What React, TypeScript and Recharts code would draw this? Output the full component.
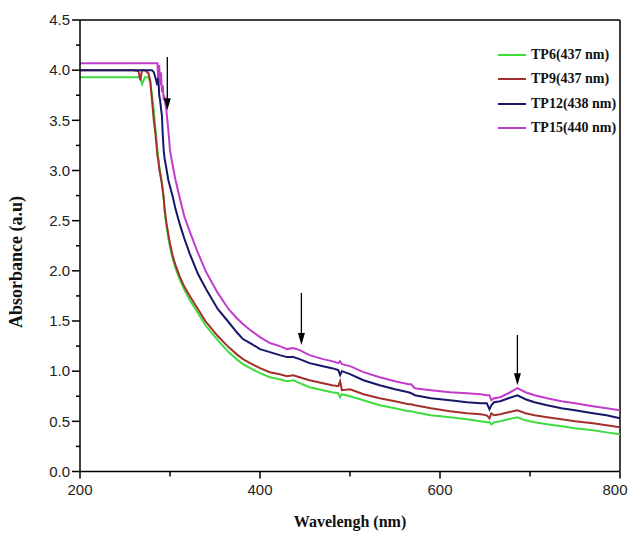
import React from 'react';
import { LineChart, Line, XAxis, YAxis, ReferenceLine, Legend } from 'recharts';

const wavelengths = [200, 230, 260, 265, 267, 269, 272, 276, 278, 280, 282, 284, 286, 287, 288, 289, 290, 291, 292, 293, 294, 296, 298, 300, 303, 306, 311, 316, 322, 331, 340, 353, 365, 374, 381, 389, 400, 411, 422, 430, 437, 444, 455, 470, 480, 487, 489, 491, 500, 515, 533, 550, 565, 568, 572, 590, 611, 630, 645, 652, 655, 657, 660, 667, 676, 686, 695, 705, 719, 735, 750, 770, 785, 800];

const tp6 = [3.93, 3.93, 3.93, 3.93, 3.93, 3.86, 3.93, 3.93, 3.88, 3.75, 3.6, 3.4, 3.2, 3.12, 3.05, 2.99, 2.93, 2.88, 2.8, 2.72, 2.6, 2.45, 2.34, 2.24, 2.12, 2.03, 1.91, 1.81, 1.71, 1.58, 1.45, 1.31, 1.19, 1.12, 1.07, 1.03, 0.98, 0.94, 0.92, 0.9, 0.91, 0.88, 0.84, 0.81, 0.79, 0.78, 0.74, 0.77, 0.75, 0.71, 0.66, 0.63, 0.6, 0.6, 0.59, 0.56, 0.54, 0.52, 0.5, 0.49, 0.49, 0.47, 0.49, 0.5, 0.52, 0.54, 0.51, 0.49, 0.47, 0.45, 0.43, 0.41, 0.39, 0.37];

const tp9 = [4.0, 4.0, 4.0, 3.99, 3.9, 4.0, 4.0, 3.97, 3.9, 3.7, 3.5, 3.35, 3.15, 3.1, 3.02, 2.97, 2.92, 2.87, 2.8, 2.73, 2.62, 2.48, 2.37, 2.27, 2.15, 2.06, 1.94, 1.84, 1.75, 1.62, 1.49, 1.35, 1.24, 1.17, 1.12, 1.08, 1.03, 0.99, 0.97, 0.95, 0.96, 0.94, 0.91, 0.88, 0.86, 0.85, 0.9, 0.81, 0.82, 0.77, 0.73, 0.7, 0.67, 0.67, 0.66, 0.63, 0.6, 0.58, 0.57, 0.56, 0.53, 0.58, 0.56, 0.57, 0.59, 0.61, 0.58, 0.56, 0.54, 0.52, 0.5, 0.48, 0.46, 0.44];

const tp12 = [4.0, 4.0, 4.0, 4.0, 4.0, 4.0, 4.0, 4.0, 4.0, 4.0, 3.98, 3.92, 3.85, 3.95, 3.75, 3.7, 3.62, 3.55, 3.35, 3.2, 3.12, 3.02, 2.91, 2.84, 2.74, 2.62, 2.46, 2.32, 2.17, 1.97, 1.82, 1.62, 1.49, 1.39, 1.32, 1.28, 1.22, 1.19, 1.16, 1.14, 1.14, 1.12, 1.08, 1.05, 1.03, 1.01, 0.96, 1.0, 0.97, 0.91, 0.86, 0.82, 0.79, 0.78, 0.76, 0.73, 0.71, 0.69, 0.68, 0.68, 0.62, 0.66, 0.69, 0.7, 0.73, 0.76, 0.72, 0.69, 0.66, 0.63, 0.61, 0.58, 0.56, 0.53];

const tp15 = [4.07, 4.07, 4.07, 4.07, 4.07, 4.07, 4.07, 4.07, 4.07, 4.07, 4.07, 4.07, 4.07, 3.92, 4.05, 3.85, 3.98, 3.78, 3.85, 3.7, 3.72, 3.6, 3.42, 3.2, 3.05, 2.91, 2.72, 2.54, 2.39, 2.18, 1.99, 1.78, 1.62, 1.53, 1.47, 1.41, 1.34, 1.28, 1.25, 1.22, 1.23, 1.21, 1.16, 1.12, 1.1, 1.08, 1.1, 1.07, 1.05, 0.99, 0.94, 0.9, 0.87, 0.87, 0.83, 0.81, 0.79, 0.78, 0.77, 0.76, 0.76, 0.71, 0.73, 0.74, 0.78, 0.83, 0.79, 0.76, 0.73, 0.7, 0.68, 0.65, 0.63, 0.61];

const seriesKeys = ['tp6', 'tp9', 'tp12', 'tp15'];
const seriesNames = ['TP6(437 nm)', 'TP9(437 nm)', 'TP12(438 nm)', 'TP15(440 nm)'];
const seriesColors = ['#3fdc3f', '#a3302c', '#16166a', '#c23ccc'];

const xTicks = [200, 300, 400, 500, 600, 700, 800];
const xLabeledTicks = [200, 400, 600, 800];
const yTicks = [0, 0.25, 0.5, 0.75, 1, 1.25, 1.5, 1.75, 2, 2.25, 2.5, 2.75, 3, 3.25, 3.5, 3.75, 4, 4.25, 4.5];

const arrowX = [297, 446, 686];
const arrowFrom = [4.13, 1.78, 1.36];
const arrowTo = [3.6, 1.26, 0.86];

const series = [tp6, tp9, tp12, tp15];
const data = wavelengths.map((w, i) => {
  const row: Record<string, number> = { w };
  seriesKeys.forEach((k, j) => { row[k] = series[j][i]; });
  return row;
});

const tickFont = '"Liberation Sans", Arial, sans-serif';
const labelFont = '"Liberation Serif", "Times New Roman", serif';

const XTick = (props: any) => {
  const { x, y, payload } = props;
  const major = xLabeledTicks.includes(payload.value);
  const tx = Math.min(x, 630 - 15);
  return (
    <g>
      <line x1={x} y1={y} x2={x} y2={y + (major ? 7 : 5)} stroke="#000" strokeWidth={1.5} />
      {major && (
        <text x={tx} y={y + 23} textAnchor="middle" fontSize={15} fontFamily={tickFont} fill="#222">
          {payload.value}
        </text>
      )}
    </g>
  );
};

const YTick = (props: any) => {
  const { x, y, payload } = props;
  const v = payload.value as number;
  const major = Math.abs(v * 2 - Math.round(v * 2)) < 1e-6;
  return (
    <g>
      <line x1={x} y1={y} x2={x - (major ? 8 : 4)} y2={y} stroke="#000" strokeWidth={1.5} />
      {major && (
        <text x={x - 10} y={y} dy="0.35em" textAnchor="end" fontSize={15} fontFamily={tickFont} fill="#222">
          {v.toFixed(1)}
        </text>
      )}
    </g>
  );
};

const ArrowShape = (props: any) => {
  const { x1, y1, x2, y2 } = props;
  return (
    <g>
      <line x1={x1} y1={y1} x2={x2} y2={y2 - 9} stroke="#000" strokeWidth={1.3} />
      <polygon points={`${x2 - 3.5},${y2 - 12} ${x2 + 3.5},${y2 - 12} ${x2},${y2}`} fill="#000" />
    </g>
  );
};

const renderLegend = () => (
  <div style={{ fontFamily: labelFont, fontWeight: 'bold', fontSize: 14, color: '#111' }}>
    {seriesNames.map((n, i) => (
      <div key={n} style={{ display: 'flex', alignItems: 'center', height: 24.3 }}>
        <span style={{ display: 'inline-block', width: 28, height: 2, background: seriesColors[i], marginRight: 5 }} />
        <span>{n}</span>
      </div>
    ))}
  </div>
);

export default function App() {
  return (
    <div style={{ position: 'absolute', left: 0, top: 0, background: '#fff' }}>
      <LineChart width={630} height={533} data={data} margin={{ top: 20, right: 10, bottom: 21.5, left: 0 }}>
        <XAxis
          dataKey="w"
          type="number"
          domain={[200, 800]}
          ticks={xTicks}
          interval={0}
          allowDataOverflow
          height={40}
          tickSize={0}
          tickMargin={0}
          tickLine={false}
          tick={<XTick />}
          axisLine={{ stroke: '#000', strokeWidth: 1.5 }}
          label={{
            content: () => (
              <text x={350} y={527} textAnchor="middle" fontSize={16} fontWeight="bold" fontFamily={labelFont} fill="#111">
                Wavelengh (nm)
              </text>
            ),
          }}
        />
        <YAxis
          type="number"
          domain={[0, 4.5]}
          ticks={yTicks}
          interval={0}
          width={80}
          tickSize={0}
          tickMargin={0}
          tickLine={false}
          tick={<YTick />}
          axisLine={{ stroke: '#000', strokeWidth: 1.5 }}
          label={{
            content: () => (
              <text x={22} y={262} transform="rotate(-90, 22, 262)" textAnchor="middle" fontSize={18} fontWeight="bold" fontFamily={labelFont} fill="#111">
                Absorbance (a.u)
              </text>
            ),
          }}
        />
        <ReferenceLine y={4.5} stroke="#000" strokeWidth={1.5} />
        <ReferenceLine x={800} stroke="#000" strokeWidth={1.5} />
        {seriesKeys.map((k, i) => (
          <Line
            key={k}
            dataKey={k}
            name={seriesNames[i]}
            stroke={seriesColors[i]}
            strokeWidth={2}
            dot={false}
            type="linear"
            isAnimationActive={false}
          />
        ))}
        {arrowX.map((x, i) => (
          <ReferenceLine
            key={'a' + i}
            segment={[{ x, y: arrowFrom[i] }, { x, y: arrowTo[i] }]}
            shape={<ArrowShape />}
          />
        ))}
        <Legend
          layout="vertical"
          align="center"
          verticalAlign="middle"
          content={renderLegend}
          wrapperStyle={{ left: 498, top: 43, width: 130 }}
        />
      </LineChart>
    </div>
  );
}
